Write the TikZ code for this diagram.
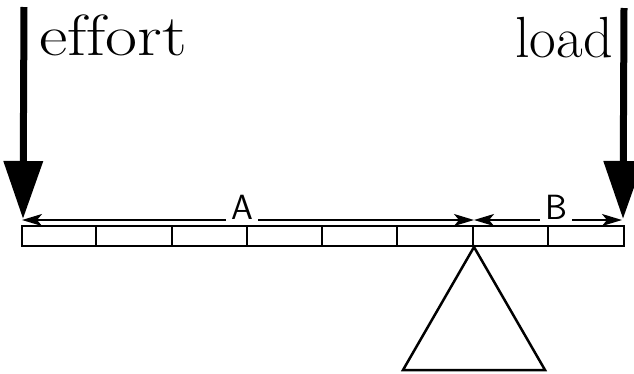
\documentclass[tikz,border=0pt]{standalone}
\usetikzlibrary{arrows.meta,calc}
\begin{document}
\begin{tikzpicture}[x=1pt,y=-1pt,
  bigarrow/.style={line width=7pt,-{Triangle[length=58pt,width=38pt]}},
  dimline/.style={line width=2pt,{Stealth[length=20pt,width=12pt,inset=5pt]}-{Stealth[length=20pt,width=12pt,inset=5pt]}},
  dimlabel/.style={fill=white,inner sep=5pt,font=\sffamily\fontsize{35}{35}\selectfont},
  word/.style={inner sep=0pt,font=\fontsize{58}{58}\selectfont},
  beamline/.style={line width=2pt}]
\useasboundingbox (0,0) rectangle (634,373);
% beam
\node[draw,beamline,minimum width=602pt,minimum height=20pt,inner sep=0pt] (beam) at (323,236) {};
\foreach \k in {1,...,7}{
  \draw[beamline] ($(beam.north west)+(75.25*\k,0)$) -- ($(beam.south west)+(75.25*\k,0)$);
}
% fulcrum
\coordinate (apex) at (474,247);
\coordinate (bl) at (403,370);
\coordinate (br) at (545,370);
\draw[line width=2.5pt,line join=miter] (apex) -- (bl) -- (br) -- cycle;
% forces
\coordinate (e0) at (24,7);
\coordinate (e1) at (23,219);
\coordinate (l0) at (624,8);
\coordinate (l1) at (623,219);
\draw[bigarrow] (e0) -- (e1);
\draw[bigarrow] (l0) -- (l1);
\node[word,anchor=base west] (effort) at (39,55) {\scalebox{1.2}[1]{e\mbox{f}\mbox{f}ort}};
\node[word,anchor=base east] (load) at (613,57) {load};
% dimensions
\coordinate (dl) at (22,220);
\coordinate (dm) at (474,220);
\coordinate (dr) at (622,220);
\draw[dimline] (dl) -- (dm);
\draw[dimline] (dm) -- (dr);
\node[dimlabel,anchor=base] (A) at (242,219) {A};
\node[dimlabel,anchor=base] (B) at (556,219) {B};
\end{tikzpicture}
\end{document}
